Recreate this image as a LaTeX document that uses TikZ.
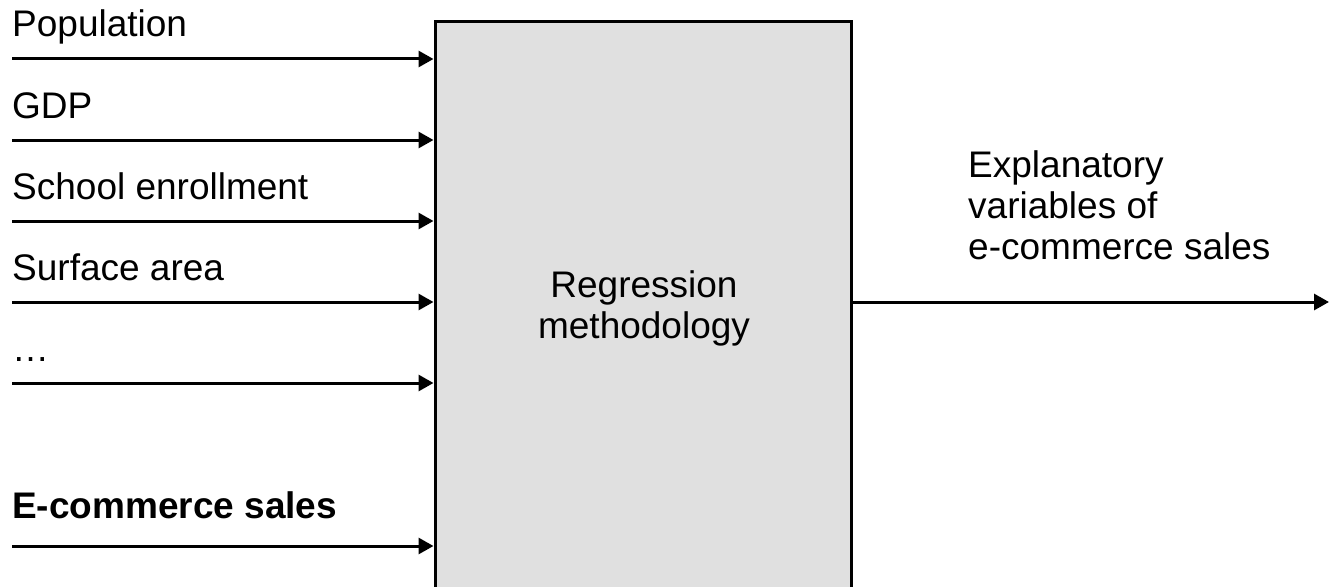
\documentclass[tikz,border=0pt]{standalone}
\usepackage{fontspec}
\setmainfont{Liberation Sans}
\usetikzlibrary{arrows.meta}
\definecolor{boxgray}{HTML}{E0E0E0}
\tikzset{
  txt/.style={font=\fontsize{37pt}{41pt}\selectfont},
  conn/.style={line width=3pt,-{Triangle[length=15pt,width=16pt]}},
  lbl/.style={txt,anchor=base west,inner sep=0pt},
  procbox/.style={draw,line width=3pt,fill=boxgray,minimum width=416pt,minimum height=580pt,inner sep=0pt}
}
\begin{document}
\begin{tikzpicture}[x=1pt,y=-1pt]
\useasboundingbox (0,0) rectangle (1329,586);
\node[procbox] (box) at (643,312) {};
\node[txt,anchor=base,inner sep=0pt,align=center] (rm) at (644,338) {Regression\\methodology};
% input labels
\node[lbl] (l1) at (12,37) {Population};
\node[lbl] (l2) at (12,118) {GDP};
\node[lbl] (l3) at (12,199) {School enrollment};
\node[lbl] (l4) at (12,280) {Surface area};
\node[lbl] (l5) at (12,361) {\symbol{"2026}};
\node[lbl,font=\fontsize{37pt}{41pt}\selectfont\bfseries] (l6) at (12,518) {E-commerce sales};
% input starts
\coordinate (s1) at (12,59);
\coordinate (s2) at (12,140);
\coordinate (s3) at (12,221);
\coordinate (s4) at (12,302);
\coordinate (s5) at (12,383);
\coordinate (s6) at (12,546);
\foreach \i in {1,...,6}{
  \draw[conn] (s\i) -- (box.west |- s\i);
}
% output
\coordinate (out) at (1329,302);
\draw[conn] (box.east |- out) -- (out);
\node[txt,anchor=base west,inner sep=0pt,align=left] (ex) at (968,259) {Explanatory\\variables of\\e-commerce sales};
\end{tikzpicture}
\end{document}
